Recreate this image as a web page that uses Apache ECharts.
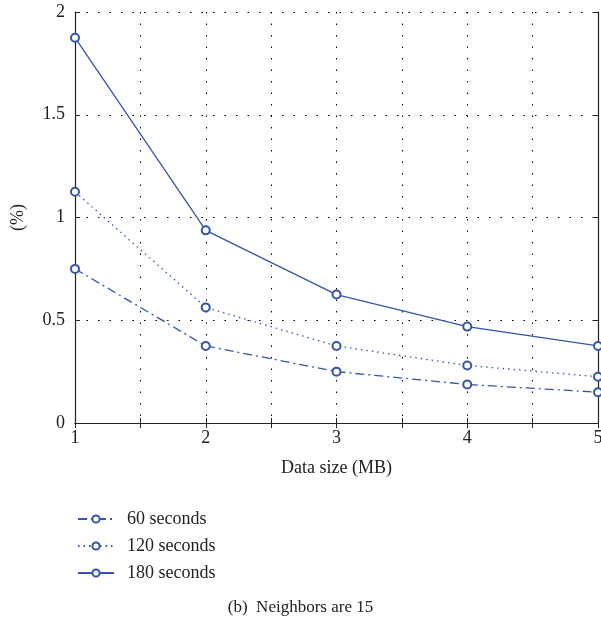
<!DOCTYPE html>
<html>
<head>
<meta charset="utf-8">
<script src="https://cdn.jsdelivr.net/npm/echarts@6/dist/echarts.min.js"></script>
<style>
html, body { margin: 0; padding: 0; background: #fff; }
#chart { width: 601px; height: 622px; }
</style>
</head>
<body>
<div id="chart"></div>
<script>
var dataSizes = [1, 2, 3, 4, 5];
var sec60 = [0.75, 0.375, 0.25, 0.1875, 0.15];
var sec120 = [1.125, 0.5625, 0.375, 0.28, 0.225];
var sec180 = [1.875, 0.9375, 0.625, 0.469, 0.375];
var seriesNames = ['60 seconds', '120 seconds', '180 seconds'];

var font = 'Liberation Serif';
var blue = '#3555ad';

function pairs(vals) {
    return dataSizes.map(function (x, i) { return [x, vals[i]]; });
}

function makeSeries(name, vals, lineType) {
    return {
        name: name,
        type: 'line',
        data: pairs(vals),
        symbol: 'emptyCircle',
        symbolSize: 8,
        itemStyle: { color: blue, borderWidth: 1.3 },
        lineStyle: { color: blue, width: 1.3, type: lineType },
        xAxisIndex: 0,
        yAxisIndex: 0
    };
}

var axisLine = { show: true, lineStyle: { color: '#222', width: 1.2 } };
var tickIn = { show: true, inside: true, length: 5, lineStyle: { color: '#222' } };
var gridLine = { show: true, lineStyle: { color: '#000', width: 1, type: [1.5, 10] } };

var chart = echarts.init(document.getElementById('chart'));
chart.setOption({
    animation: false,
    backgroundColor: '#fff',
    textStyle: { fontFamily: font },
    title: {
        text: '(b)  Neighbors are 15',
        left: 'center',
        top: 594,
        textStyle: { fontFamily: font, fontSize: 17, fontWeight: 'normal', color: '#222' }
    },
    legend: {
        orient: 'vertical',
        left: 72,
        top: 505,
        itemWidth: 36,
        itemHeight: 9,
        itemGap: 9,
        data: seriesNames,
        textStyle: { fontFamily: font, fontSize: 18, lineHeight: 18, color: '#222', padding: [0, 0, 0, 8] }
    },
    grid: { left: 75, right: 3, top: 12, bottom: 199, outerBoundsMode: 'none', containLabel: false },
    xAxis: [
        {
            type: 'value',
            position: 'bottom',
            min: 1,
            max: 5,
            interval: 0.5,
            name: 'Data size (MB)',
            nameLocation: 'middle',
            nameGap: 36,
            nameTextStyle: { fontFamily: font, fontSize: 18, color: '#222' },
            axisLine: axisLine,
            axisTick: tickIn,
            splitLine: gridLine,
            axisLabel: {
                fontFamily: font,
                fontSize: 18,
                color: '#222',
                margin: 6,
                formatter: function (v) { return v % 1 === 0 ? String(v) : ''; }
            }
        },
        {
            type: 'value',
            position: 'top',
            min: 1,
            max: 5,
            interval: 0.5,
            axisLine: axisLine,
            axisTick: tickIn,
            splitLine: { show: false },
            axisLabel: { show: false }
        }
    ],
    yAxis: [
        {
            type: 'value',
            position: 'left',
            min: 0,
            max: 2,
            interval: 0.5,
            name: '(%)',
            nameLocation: 'middle',
            nameGap: 48,
            nameTextStyle: { fontFamily: font, fontSize: 18, color: '#222' },
            axisLine: axisLine,
            axisTick: tickIn,
            splitLine: gridLine,
            axisLabel: { fontFamily: font, fontSize: 18, color: '#222', margin: 10 }
        },
        {
            type: 'value',
            position: 'right',
            min: 0,
            max: 2,
            interval: 0.5,
            axisLine: axisLine,
            axisTick: tickIn,
            splitLine: { show: false },
            axisLabel: { show: false }
        }
    ],
    series: [
        makeSeries(seriesNames[0], sec60, [9, 4, 2, 4]),
        makeSeries(seriesNames[1], sec120, [1.5, 4]),
        makeSeries(seriesNames[2], sec180, 'solid')
    ]
});
</script>
</body>
</html>
